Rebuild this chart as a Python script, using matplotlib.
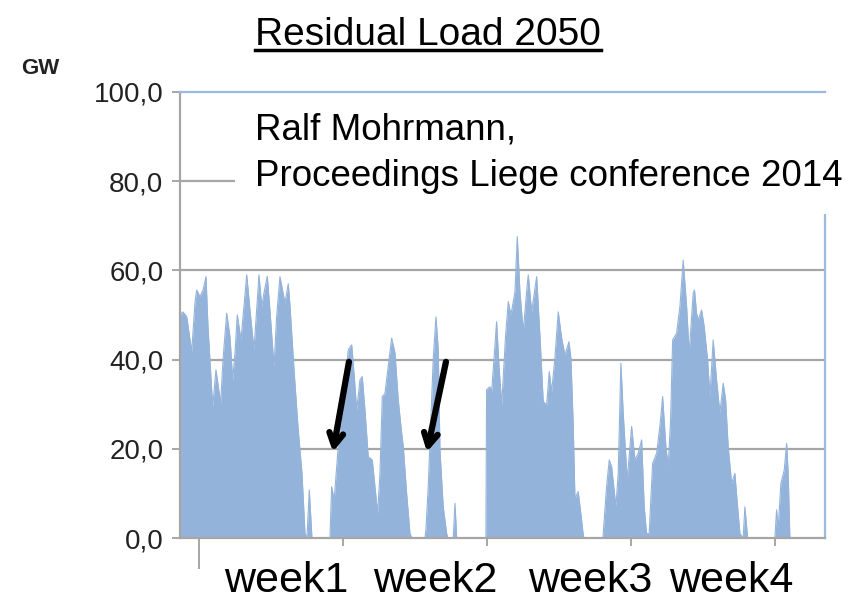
import matplotlib.pyplot as plt
import numpy as np
from matplotlib.lines import Line2D

# hourly residual load (hours from start of week 1, GW)
hours = [-22.2, -18.7, -14.3, -8.5, -4.7, -2.7, 1.2, 4.7, 8.2, 10.5, 16.0, 19.8, 25.3, 28.0,
         32.3, 36.2, 39.3, 42.0, 44.7, 49.0, 51.7, 55.7, 59.5, 64.2, 67.3, 70.0, 73.2, 75.8,
         79.7, 82.8, 87.5, 90.6, 94.5, 100.3, 104.2, 106.2, 110.8, 115.5, 120.2, 123.7, 126.0,
         128.7, 131.8, 152.8, 154.8, 157.8, 159.5, 162.5, 168.4, 174.2, 178.2, 181.2, 184.0,
         187.8, 190.5, 193.7, 197.5, 202.2, 205.3, 208.5, 211.2, 213.9, 217.0, 221.7, 224.8,
         228.7, 232.5, 236.5, 238.4, 242.3, 246.2, 248.5, 263.7, 264.8, 267.5, 270.3, 273.3,
         276.5, 279.2, 281.2, 285.0, 289.0, 290.5, 296.7, 298.7, 300.7, 334.8, 335.6, 337.5,
         339.5, 341.5, 347.3, 350.0, 353.2, 357.8, 360.9, 364.0, 368.7, 371.4, 374.5, 378.4,
         382.3, 384.2, 388.2, 394.0, 397.8, 401.7, 405.7, 408.7, 411.5, 415.3, 419.2, 423.2,
         427.0, 431.7, 434.0, 436.7, 438.7, 442.5, 445.3, 448.4, 449.2, 471.3, 471.7, 475.6,
         478.7, 481.5, 486.5, 489.2, 492.3, 495.0, 499.7, 504.8, 508.7, 512.5, 516.5, 519.5,
         522.3, 525.3, 529.3, 534.0, 537.8, 541.0, 544.8, 547.5, 550.3, 552.7, 557.3, 561.2,
         565.0, 569.0, 572.0, 576.7, 578.2, 580.6, 582.5, 586.5, 589.5, 593.5, 596.2, 600.0,
         604.0, 607.8, 611.7, 614.5, 617.5, 621.5, 625.3, 628.5, 631.2, 635.0, 637.0, 640.2,
         672.0, 674.0, 675.8, 679.0, 682.9, 685.7, 687.5, 689.5, 730.3]
load = [50.0, 50.7, 49.6, 41.8, 52.7, 55.6, 54.1, 55.6, 58.6, 47.4, 29.4, 37.7, 30.2, 39.9,
        50.4, 45.1, 35.4, 41.5, 50.0, 44.4, 50.4, 59.0, 51.1, 42.2, 51.1, 59.0, 51.9, 54.9,
        58.7, 51.1, 38.4, 49.6, 58.6, 52.7, 57.0, 52.0, 38.0, 25.0, 14.5, 1.0, 0.0,
        10.8, 0.0, 0.0, 11.5, 8.5, 13.0, 20.5, 31.0, 42.2, 43.3, 36.2, 28.7,
        35.4, 36.2, 28.7, 18.2, 17.5, 11.5, 5.5, 14.6, 31.7, 32.4, 39.9, 44.8,
        41.5, 31.0, 23.5, 20.5, 10.0, 1.0, 0.0, 0.0, 1.8, 11.5, 25.0, 40.0,
        49.6, 42.2, 19.7, 7.0, 1.0, 0.0, 0.0, 7.8, 0.0, 0.0, 33.2, 33.6,
        33.9, 32.8, 48.5, 38.8, 29.8, 45.5, 53.0, 50.0, 55.2, 67.6, 55.2, 46.3,
        55.2, 59.0, 50.7, 58.6, 45.5, 30.6, 29.8, 37.3, 32.8, 40.3, 50.7, 44.8,
        41.0, 44.0, 40.3, 25.3, 8.9, 10.4, 5.9, 0.7, 0.0, 0.0, 1.0, 11.5,
        17.5, 16.0, 7.0, 14.6, 39.2, 28.0, 13.0, 25.0, 17.5, 19.0, 22.0, 7.0,
        1.0, 1.0, 16.7, 19.0, 25.0, 31.7, 20.5, 16.0, 26.5, 44.4, 45.9, 51.9,
        62.3, 51.9, 41.4, 54.9, 55.6, 50.4, 48.9, 51.1, 47.4, 39.9, 31.7, 44.4,
        35.4, 28.0, 34.7, 31.0, 20.5, 12.3, 14.5, 7.0, 1.0, 0.0, 7.0, 0.0,
        0.0, 6.3, 2.0, 12.3, 15.2, 21.2, 14.5, 0.0, 0.0]

y_ticks = [0, 20, 40, 60, 80, 100]
y_ticklabels = ["0,0", "20,0", "40,0", "60,0", "80,0", "100,0"]
x_ticks = [0, 168, 336, 504, 672]
week_labels = ["week1", "week2", "week3", "week4"]
week_label_x = [101.5, 275.3, 456.2, 620.7]
# arrows pointing at the low-load gaps: (tail x, tail y, tip x, tip y)
arrows = [(175.0, 39.5, 156.3, 19.3), (288.2, 39.5, 266.0, 19.3)]

sans = ['Liberation Sans', 'DejaVu Sans']
grey = '#A6A6A6'
blue_line = '#9DBAE0'
fill_col = '#93B3DA'

fig = plt.figure(figsize=(8.61, 6.0), dpi=100)
ax = fig.add_axes([0.209, 0.1033, 0.749, 0.7434])

ax.fill_between(hours, load, 0, color=fill_col, lw=0, zorder=2)
ax.plot(hours, load, color=fill_col, lw=0.8, zorder=2)

ax.set_xlim(-22.2, 730.3)
ax.set_ylim(0, 100)
for v in y_ticks[1:-1]:
    ax.axhline(v, color=grey, lw=1.6, zorder=1)
ax.axhline(100, color=blue_line, lw=1.6, zorder=6, clip_on=False)

ax.spines['top'].set_visible(False)
ax.spines['left'].set_color(grey)
ax.spines['left'].set_linewidth(1.6)
ax.spines['bottom'].set_color(grey)
ax.spines['bottom'].set_linewidth(1.6)
ax.spines['right'].set_color(blue_line)
ax.spines['right'].set_linewidth(1.6)

ax.set_yticks(y_ticks)
ax.set_yticklabels(y_ticklabels, family=sans, fontsize=20, color='#222222')
ax.tick_params(axis='y', length=6, width=1.4, color=grey, pad=6)
ax.set_xticks(x_ticks)
ax.set_xticklabels([])
ax.tick_params(axis='x', length=6, width=1.4, color=grey)
ax.xaxis.get_major_ticks()[0].tick1line.set_markersize(22)

for lab, xp in zip(week_labels, week_label_x):
    ax.text(xp, -0.097, lab, transform=ax.get_xaxis_transform(), ha='center', va='center',
            fontsize=31, family=sans, color='black')

for x0, y0, x1, y1 in arrows:
    ax.annotate('', xy=(x1, y1), xytext=(x0, y0), zorder=5,
                arrowprops=dict(arrowstyle='->,head_length=0.9,head_width=0.5',
                                lw=4.5, color='black', shrinkA=0, shrinkB=0))

ax.text(0.116, 0.862, "Ralf Mohrmann,\nProceedings Liege conference 2014",
        transform=ax.transAxes, ha='left', va='center', fontsize=26.5, family=sans,
        linespacing=1.42, zorder=4, clip_on=False,
        bbox=dict(boxstyle='square,pad=0.55', fc='white', ec='none'))

title = fig.text(0.497, 0.925, "Residual Load 2050", ha='center', va='baseline',
                 fontsize=28, family=sans, color='black')
fig.text(0.025, 0.885, "GW", ha='left', va='center', fontsize=16, family=sans,
         fontweight='bold', color='#222222')

# underline the title just below its baseline
fig.canvas.draw()
bb = title.get_window_extent()
base_y = 0.925 * fig.bbox.height - 5
fig.add_artist(Line2D([bb.x0, bb.x1], [base_y, base_y], lw=2.5, color='black',
                      transform=None))

fig.savefig('out.png', dpi=100)
